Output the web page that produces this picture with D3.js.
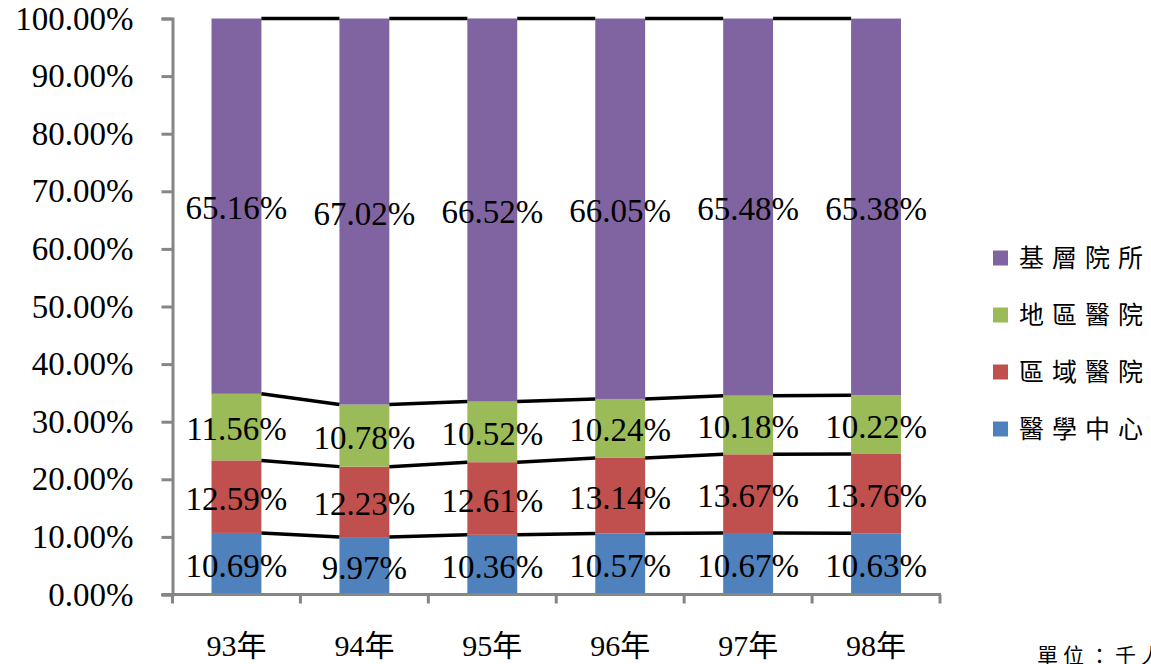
<!DOCTYPE html>
<html>
<head>
<meta charset="utf-8">
<script src="https://cdn.jsdelivr.net/npm/d3@7"></script>
<style>
  html, body { margin: 0; padding: 0; background: #fff; }
  svg { display: block; }
  text { font-family: "Liberation Serif", "Noto Sans CJK TC", serif; fill: #000; }
</style>
</head>
<body>
<svg id="chart" width="1151" height="664"></svg>
<script>
// Yearly share by hospital level (percent)
const years = ["93年", "94年", "95年", "96年", "97年", "98年"];
const seriesNames = ["醫學中心", "區域醫院", "地區醫院", "基層院所"];
const medicalCenter = [10.69, 9.97, 10.36, 10.57, 10.67, 10.63];
const regionalHospital = [12.59, 12.23, 12.61, 13.14, 13.67, 13.76];
const districtHospital = [11.56, 10.78, 10.52, 10.24, 10.18, 10.22];
const primaryClinic = [65.16, 67.02, 66.52, 66.05, 65.48, 65.38];
const yTicks = [0, 10, 20, 30, 40, 50, 60, 70, 80, 90, 100];
const colors = ["#4F81BD", "#C0504D", "#9BBB59", "#8064A2"];
const unitText = "單位：千人次";

const seriesValues = [medicalCenter, regionalHospital, districtHospital, primaryClinic];
const rows = years.map((y, i) => {
  const r = { year: y };
  seriesNames.forEach((s, k) => { r[s] = seriesValues[k][i]; });
  return r;
});
const stacked = d3.stack().keys(seriesNames)(rows);

const svg = d3.select("#chart");
const plot = { left: 172.5, right: 940, top: 18.5, bottom: 594.5 };

const x = d3.scaleBand().domain(years).range([plot.left, plot.right])
  .paddingInner(0.61).paddingOuter(0.305);
const y = d3.scaleLinear().domain([0, 100]).range([plot.bottom, plot.top]);
const color = d3.scaleOrdinal().domain(seriesNames).range(colors);

// Bars
const layers = svg.append("g").selectAll("g").data(stacked).join("g")
  .attr("fill", d => color(d.key));
layers.selectAll("rect").data(d => d).join("rect")
  .attr("x", d => x(d.data.year))
  .attr("width", x.bandwidth())
  .attr("y", d => y(d[1]))
  .attr("height", d => y(d[0]) - y(d[1]));

// Series lines joining the top of each segment between neighbouring bars
const joins = [];
stacked.forEach(layer => {
  for (let i = 0; i < layer.length - 1; i++) {
    joins.push({ a: layer[i], b: layer[i + 1] });
  }
});
svg.append("g").selectAll("line").data(joins).join("line")
  .attr("x1", d => x(d.a.data.year) + x.bandwidth())
  .attr("y1", d => y(d.a[1]))
  .attr("x2", d => x(d.b.data.year))
  .attr("y2", d => y(d.b[1]))
  .attr("stroke", "#000")
  .attr("stroke-width", 3.5);

// Y axis
const yAxis = d3.axisLeft(y).tickValues(yTicks)
  .tickFormat(v => d3.format(".2f")(v) + "%")
  .tickSize(11).tickPadding(28);
const gy = svg.append("g").attr("transform", `translate(${plot.left},0)`).call(yAxis);
gy.select(".domain").attr("stroke", "#868686").attr("stroke-width", 3);
gy.selectAll(".tick line").attr("stroke", "#868686").attr("stroke-width", 3);
gy.selectAll(".tick text").attr("font-size", 33)
  .attr("font-family", "Liberation Serif, serif").attr("fill", "#000");

// X axis baseline with category boundary ticks
const gx = svg.append("g");
gx.append("line")
  .attr("x1", plot.left - 11).attr("x2", plot.right + 1)
  .attr("y1", plot.bottom).attr("y2", plot.bottom)
  .attr("stroke", "#868686").attr("stroke-width", 3);
const step = x.step();
const edges = d3.range(years.length + 1).map(i => plot.left + i * step);
gx.selectAll("line.tk").data(edges).join("line").attr("class", "tk")
  .attr("x1", d => d).attr("x2", d => d)
  .attr("y1", plot.bottom).attr("y2", plot.bottom + 9)
  .attr("stroke", "#868686").attr("stroke-width", 3);
gx.selectAll("text").data(years).join("text")
  .attr("x", d => x(d) + x.bandwidth() / 2)
  .attr("y", 645)
  .attr("text-anchor", "middle")
  .attr("dominant-baseline", "central")
  .attr("font-size", 30)
  .text(d => d);

// Value labels centred in each segment
const labelData = stacked.flatMap(layer => layer.map(d => ({ d, key: layer.key })));
svg.append("g").selectAll("text").data(labelData).join("text")
  .attr("x", v => x(v.d.data.year) + x.bandwidth() / 2)
  .attr("y", v => y((v.d[0] + v.d[1]) / 2) + 2)
  .attr("text-anchor", "middle")
  .attr("dominant-baseline", "central")
  .attr("font-size", 33)
  .text(v => d3.format(".2f")(v.d.data[v.key]) + "%");

// Legend
const legendOrder = seriesNames.slice().reverse();
const lg = svg.append("g").selectAll("g").data(legendOrder).join("g")
  .attr("transform", (d, i) => `translate(993, ${258 + i * 57})`);
lg.append("rect").attr("x", 0).attr("y", -7.5).attr("width", 15).attr("height", 15)
  .attr("fill", d => color(d));
lg.append("text").attr("x", 26).attr("y", 0)
  .attr("dominant-baseline", "central")
  .attr("font-family", "Noto Sans CJK TC, sans-serif")
  .attr("font-size", 25).attr("letter-spacing", 8)
  .text(d => d);

// Unit note
svg.append("text").attr("x", 1037).attr("y", 663)
  .attr("font-family", "Noto Sans CJK TC, sans-serif")
  .attr("font-size", 21).attr("letter-spacing", 5)
  .text(unitText);
</script>
</body>
</html>
